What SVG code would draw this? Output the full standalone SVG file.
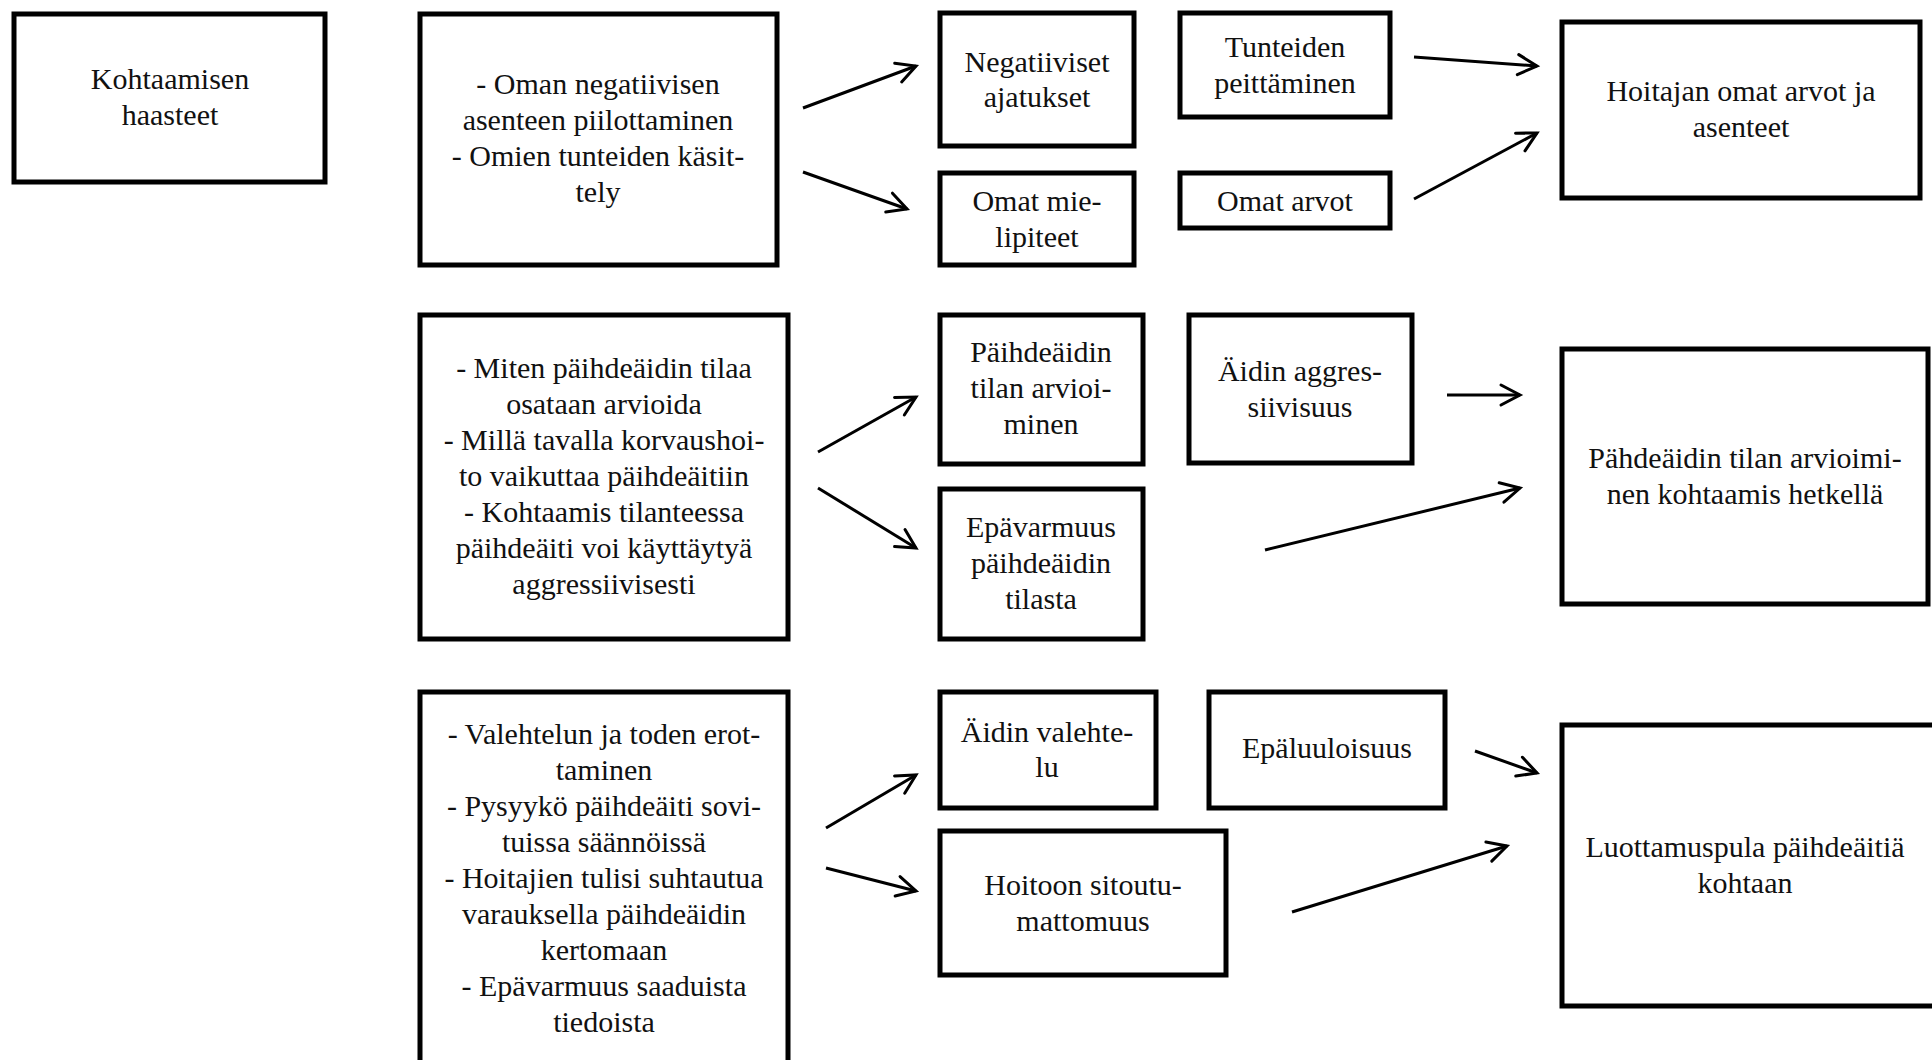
<svg xmlns="http://www.w3.org/2000/svg" width="1932" height="1060" viewBox="0 0 1932 1060">
  <style>
    .box { fill: #fff; stroke: #000; stroke-width: 5; }
    .lbl { font-family: 'Liberation Serif', 'Times New Roman', Tinos, 'Noto Serif', 'DejaVu Serif', FreeSerif, serif; font-size: 30px; fill: #111; text-anchor: middle; }
    .conn { stroke: #000; stroke-width: 3; fill: none; marker-end: url(#arrow); }
  </style>
  <defs>
    <marker id="arrow" markerUnits="userSpaceOnUse" viewBox="-24 -14 28 28" markerWidth="28" markerHeight="28" refX="0" refY="0" orient="auto">
      <path d="M-19,-10 L0,0 L-19,10" fill="none" stroke="#000" stroke-width="3" stroke-linecap="round" stroke-linejoin="miter"/>
    </marker>
  </defs>
  <rect width="1932" height="1060" fill="#fff"/>

  <g font-family="'Liberation Serif', 'Times New Roman', Tinos, 'Noto Serif', 'DejaVu Serif', serif">
  <!-- title -->
  <g id="kohtaamisen-haasteet">
    <rect class="box" x="14" y="14" width="311" height="168"/>
    <text class="lbl" x="170" y="89">Kohtaamisen</text>
    <text class="lbl" x="170" y="125">haasteet</text>
  </g>

  <!-- row 1 -->
  <g id="oma-asenne">
    <rect class="box" x="420" y="14" width="357" height="251"/>
    <text class="lbl" x="598" y="94">- Oman negatiivisen</text>
    <text class="lbl" x="598" y="130">asenteen piilottaminen</text>
    <text class="lbl" x="598" y="166">- Omien tunteiden käsit-</text>
    <text class="lbl" x="598" y="202">tely</text>
  </g>
  <g id="negatiiviset-ajatukset">
    <rect class="box" x="940" y="13" width="194" height="133"/>
    <text class="lbl" x="1037" y="72">Negatiiviset</text>
    <text class="lbl" x="1037" y="107">ajatukset</text>
  </g>
  <g id="omat-mielipiteet">
    <rect class="box" x="940" y="173" width="194" height="92"/>
    <text class="lbl" x="1037" y="211">Omat mie-</text>
    <text class="lbl" x="1037" y="247">lipiteet</text>
  </g>
  <g id="tunteiden-peittaminen">
    <rect class="box" x="1180" y="13" width="210" height="104"/>
    <text class="lbl" x="1285" y="57">Tunteiden</text>
    <text class="lbl" x="1285" y="93">peittäminen</text>
  </g>
  <g id="omat-arvot">
    <rect class="box" x="1180" y="173" width="210" height="55"/>
    <text class="lbl" x="1285" y="211">Omat arvot</text>
  </g>
  <g id="hoitajan-arvot">
    <rect class="box" x="1562" y="22" width="358" height="176"/>
    <text class="lbl" x="1741" y="101">Hoitajan omat arvot ja</text>
    <text class="lbl" x="1741" y="137">asenteet</text>
  </g>

  <!-- row 2 -->
  <g id="tilan-arviointi">
    <rect class="box" x="420" y="315" width="368" height="324"/>
    <text class="lbl" x="604" y="378">- Miten päihdeäidin tilaa</text>
    <text class="lbl" x="604" y="414">osataan arvioida</text>
    <text class="lbl" x="604" y="450">- Millä tavalla korvaushoi-</text>
    <text class="lbl" x="604" y="486">to vaikuttaa päihdeäitiin</text>
    <text class="lbl" x="604" y="522">- Kohtaamis tilanteessa</text>
    <text class="lbl" x="604" y="558">päihdeäiti voi käyttäytyä</text>
    <text class="lbl" x="604" y="594">aggressiivisesti</text>
  </g>
  <g id="paihdeaidin-tilan-arvioiminen">
    <rect class="box" x="940" y="315" width="203" height="149"/>
    <text class="lbl" x="1041" y="362">Päihdeäidin</text>
    <text class="lbl" x="1041" y="398">tilan arvioi-</text>
    <text class="lbl" x="1041" y="434">minen</text>
  </g>
  <g id="epavarmuus-tilasta">
    <rect class="box" x="940" y="489" width="203" height="150"/>
    <text class="lbl" x="1041" y="537">Epävarmuus</text>
    <text class="lbl" x="1041" y="573">päihdeäidin</text>
    <text class="lbl" x="1041" y="609">tilasta</text>
  </g>
  <g id="aidin-aggressiivisuus">
    <rect class="box" x="1189" y="315" width="223" height="148"/>
    <text class="lbl" x="1300" y="381">Äidin aggres-</text>
    <text class="lbl" x="1300" y="417">siivisuus</text>
  </g>
  <g id="tilan-arvioiminen-kohtaamis-hetkella">
    <rect class="box" x="1562" y="349" width="366" height="255"/>
    <text class="lbl" x="1745" y="468">Pähdeäidin tilan arvioimi-</text>
    <text class="lbl" x="1745" y="504">nen kohtaamis hetkellä</text>
  </g>

  <!-- row 3 -->
  <g id="valehtelu-ja-luottamus">
    <rect class="box" x="420" y="692" width="368" height="390"/>
    <text class="lbl" x="604" y="744">- Valehtelun ja toden erot-</text>
    <text class="lbl" x="604" y="780">taminen</text>
    <text class="lbl" x="604" y="816">- Pysyykö päihdeäiti sovi-</text>
    <text class="lbl" x="604" y="852">tuissa säännöissä</text>
    <text class="lbl" x="604" y="888">- Hoitajien tulisi suhtautua</text>
    <text class="lbl" x="604" y="924">varauksella päihdeäidin</text>
    <text class="lbl" x="604" y="960">kertomaan</text>
    <text class="lbl" x="604" y="996">- Epävarmuus saaduista</text>
    <text class="lbl" x="604" y="1032">tiedoista</text>
  </g>
  <g id="aidin-valehtelu">
    <rect class="box" x="940" y="692" width="216" height="116"/>
    <text class="lbl" x="1047" y="742">Äidin valehte-</text>
    <text class="lbl" x="1047" y="777">lu</text>
  </g>
  <g id="epaluuloisuus">
    <rect class="box" x="1209" y="692" width="236" height="116"/>
    <text class="lbl" x="1327" y="758">Epäluuloisuus</text>
  </g>
  <g id="hoitoon-sitoutumattomuus">
    <rect class="box" x="940" y="831" width="286" height="144"/>
    <text class="lbl" x="1083" y="895">Hoitoon sitoutu-</text>
    <text class="lbl" x="1083" y="931">mattomuus</text>
  </g>
  <g id="luottamuspula">
    <rect class="box" x="1562" y="725" width="380" height="281"/>
    <text class="lbl" x="1745" y="857">Luottamuspula päihdeäitiä</text>
    <text class="lbl" x="1745" y="893">kohtaan</text>
  </g>
  </g>

  <!-- connectors -->
  <g id="connectors">
    <line class="conn" x1="803" y1="108" x2="916" y2="66"/>
    <line class="conn" x1="803" y1="172" x2="907" y2="209"/>
    <line class="conn" x1="1414" y1="57" x2="1537" y2="66"/>
    <line class="conn" x1="1414" y1="199" x2="1537" y2="133"/>

    <line class="conn" x1="818" y1="452" x2="916" y2="397"/>
    <line class="conn" x1="818" y1="488" x2="916" y2="548"/>
    <line class="conn" x1="1447" y1="395" x2="1520" y2="395"/>
    <line class="conn" x1="1265" y1="550" x2="1520" y2="488"/>

    <line class="conn" x1="826" y1="828" x2="916" y2="775"/>
    <line class="conn" x1="826" y1="868" x2="916" y2="891"/>
    <line class="conn" x1="1475" y1="751" x2="1537" y2="773"/>
    <line class="conn" x1="1292" y1="912" x2="1507" y2="846"/>
  </g>
</svg>
